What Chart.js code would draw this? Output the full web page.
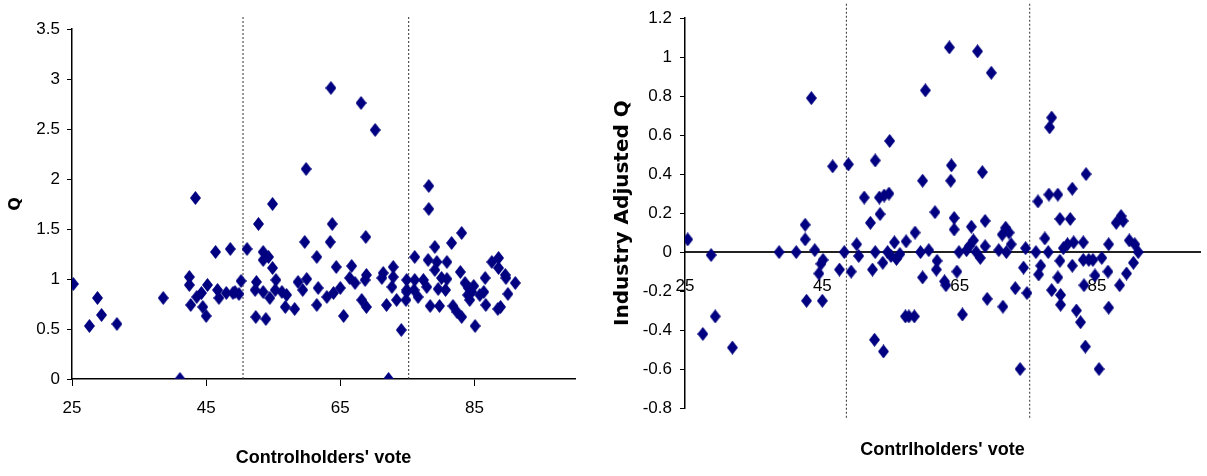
<!DOCTYPE html>
<html>
<head>
<meta charset="utf-8">
<script src="https://cdn.jsdelivr.net/npm/chart.js@4/dist/chart.umd.min.js"></script>
<style>
    body { margin: 0; background: #fff; }
    .wrap { position: relative; width: 1207px; height: 476px; overflow: hidden; }
    #left { position: absolute; left: 0; top: 0; }
    #right { position: absolute; left: 600px; top: 0; }
</style>
</head>
<body>
<div class="wrap">
    <canvas id="left" width="600" height="476"></canvas>
    <canvas id="right" width="607" height="476"></canvas>
</div>
<script>
// controlholders' vote (%) vs Q
const leftPoints = [
    [25.2,0.95],[27.6,0.53],[28.8,0.81],[29.4,0.64],[31.7,0.55],[38.6,0.81],[41.1,0],[43.4,1.81],
    [42.5,1.02],[42.5,0.94],[42.7,0.74],[43.6,0.82],[44.3,0.86],[44.5,0.72],[45,0.63],[45.2,0.94],
    [46.4,1.27],[46.7,0.89],[46.9,0.81],[48,0.86],[48.6,1.30],[49,0.86],[49.3,0.87],[49.9,0.85],
    [50.2,0.98],[51.1,1.30],[52.8,1.55],[52.5,0.97],[52.3,0.89],[53.5,0.87],[53.5,1.27],[54.3,1.22],
    [53.5,1.19],[54.9,1.11],[54.9,1.75],[55.4,0.99],[55.3,0.89],[54.5,0.81],[56.3,0.87],[57,0.84],
    [56.8,0.72],[58.2,0.70],[52.4,0.62],[53.9,0.60],[58.7,0.97],[60,1.00],[59.7,1.37],[59.4,0.89],
    [59.9,2.10],[61.5,1.22],[61.7,0.91],[61.5,0.74],[63.8,1.55],[63.5,1.37],[63.6,2.91],[64.4,1.12],
    [63,0.82],[64,0.86],[65,0.91],[65.5,0.63],[66.7,1.13],[66.4,1.01],[67.2,0.96],[68.1,2.76],
    [68.8,1.42],[68.9,1.04],[68.7,0.99],[68.2,0.79],[68.9,0.72],[70.2,2.49],[71.4,1.06],[71.2,1.01],
    [72.9,1.12],[72.9,1.02],[72.7,0.92],[71.9,0.74],[73.4,0.79],[72.2,0],[74.1,0.49],[74.9,0.99],
    [74.9,0.87],[74.8,0.79],[74.9,0.89],[76.1,1.22],[76.1,0.99],[76,0.89],[76.6,0.82],[78.2,1.93],
    [78.2,1.70],[78.1,1.19],[77.4,0.99],[77.9,0.92],[78.4,0.73],[79.1,1.32],[79.4,1.17],[79.1,1.09],
    [79.8,0.73],[79.6,0.90],[80.1,1.01],[80.9,1.17],[81.6,1.36],[80.9,1.00],[80.7,0.89],[81.8,0.73],
    [82.4,0.67],[83.1,1.46],[82.9,1.07],[83.1,0.62],[83.6,0.96],[84.1,0.91],[84,0.84],[84.6,0.87],
    [84.9,0.93],[84.3,0.79],[85.1,0.53],[85.8,0.84],[86.6,1.01],[86.4,0.87],[86.7,0.74],[87.6,1.17],
    [88.6,1.21],[88.6,1.11],[89.6,1.04],[88.5,0.70],[88.9,0.72],[89.7,1.01],[90,0.85],[91.1,0.96]
];

// controlholders' vote (%) vs industry adjusted Q
const rightPoints = [
    [25.4,0.065],[27.6,-0.42],[28.8,-0.015],[29.4,-0.33],[31.9,-0.49],[38.7,0],[41.2,0],[42.5,0.14],
    [42.5,0.065],[42.7,-0.25],[43.4,0.79],[43.9,0.01],[44.5,-0.11],[44.8,-0.06],[45.1,-0.04],[45,-0.25],
    [46.5,0.44],[47.5,-0.09],[48.2,0],[48.8,0.45],[49.2,-0.10],[50,0.04],[50.3,-0.02],[51.1,0.28],
    [52,0.15],[52.3,-0.09],[52.6,-0.45],[52.7,0.47],[52.7,0],[53.4,0.195],[53.3,0.28],[53.9,-0.51],
    [53.8,-0.055],[54,0.29],[54.7,0.30],[54.8,0.57],[54.5,0],[55.5,0.05],[55,-0.02],[55.8,-0.035],
    [56.3,-0.01],[57.2,0.055],[57.1,-0.33],[57.6,-0.33],[58.4,-0.33],[58.5,0.1],[59.3,0],[59.6,0.366],
    [59.6,-0.13],[60,0.83],[60.5,0.01],[61.4,0.205],[61.6,-0.09],[61.7,-0.045],[62.8,-0.15],[63,-0.17],
    [63.5,1.05],[63.7,0.366],[63.8,0.445],[64.2,0.175],[64.2,0.116],[64.6,-0.1],[64.9,0],[65.4,-0.32],
    [66,0.01],[66.4,0.03],[66.7,0.13],[67,0.06],[67.4,0],[67.6,1.03],[68,-0.03],[68.3,0.41],
    [68.7,0.16],[68.7,0.03],[69,-0.24],[69.6,0.92],[70.7,0.01],[71.2,0.09],[71.3,-0.28],[71.7,0.125],
    [71.8,0],[72.2,0.1],[72.5,0.04],[73.1,-0.185],[73.8,-0.60],[74.3,-0.08],[74.6,0.02],[74.8,-0.21],
    [76.1,0],[76.4,0.26],[76.5,-0.115],[76.8,-0.07],[77.4,0.07],[77.9,0],[78.1,0.64],[78.4,0.69],
    [78,0.295],[78.4,-0.195],[79.3,0.295],[79.3,-0.13],[79.6,0.17],[79.6,-0.045],[79.7,-0.22],[79.7,-0.27],
    [80.1,0.02],[80.7,0.04],[81.1,0.17],[81.4,0.325],[81.4,-0.07],[81.6,0.05],[82,-0.3],[82.6,-0.36],
    [83,0.05],[83,-0.04],[83.1,-0.17],[83.3,-0.485],[83.4,0.4],[83.8,-0.04],[84.4,-0.04],[84.7,-0.12],
    [85.3,-0.60],[85.7,-0.03],[86.6,-0.1],[86.7,-0.285],[86.7,0.04],[87.8,0.15],[88.3,-0.17],[88.5,0.185],
    [88.8,0.16],[89.3,-0.11],[89.7,0.06],[90.3,-0.055],[90.5,0.04],[91,0]
];

const xTicks = [25, 45, 65, 85];
const leftYTicks = [0, 0.5, 1, 1.5, 2, 2.5, 3, 3.5];
const rightYTicks = [-0.8, -0.6, -0.4, -0.2, 0, 0.2, 0.4, 0.6, 0.8, 1, 1.2];
const leftCutoffs = [50.5, 75.2];
const rightCutoffs = [48.5, 75.2];

// diamond marker, a bit taller than wide like the original
let marker = document.createElement('canvas');
marker.width = 11;
marker.height = 14;
let m = marker.getContext('2d');
m.fillStyle = '#000080';
m.beginPath();
m.moveTo(5.5, 0);
m.lineTo(11, 7);
m.lineTo(5.5, 14);
m.lineTo(0, 7);
m.closePath();
m.fill();

const tickFont = { family: "'Liberation Sans', Arial, sans-serif", size: 17 };
const xTitleFont = { family: "'Liberation Sans', Arial, sans-serif", size: 18, weight: 'bold' };

function fixedWidth (w) { return scale => { scale.width = w; }; }
function fixedHeight (h) { return scale => { scale.height = h; }; }
function useTicks (values) { return scale => { scale.ticks = values.map(v => ({ value: v })); }; }
function fmt (v) { return String(Math.round(v * 10) / 10); }

function pointsSet (points) {
    return {
        data: points.map(p => ({ x: p[0], y: p[1] })),
        pointStyle: marker,
        pointRadius: 6,
        pointHoverRadius: 6
    };
}

function cutoffSet (x, y0, y1) {
    return {
        data: [{ x: x, y: y0 }, { x: x, y: y1 }],
        showLine: true,
        borderColor: '#333',
        borderWidth: 1,
        borderDash: [2, 2],
        pointRadius: 0,
        clip: false
    };
}

Chart.defaults.color = '#000';

new Chart(document.getElementById('left'), {
    type: 'scatter',
    data: {
        datasets: [pointsSet(leftPoints)].concat(leftCutoffs.map(c => cutoffSet(c, 0, 3.63)))
    },
    options: {
        responsive: false,
        animation: false,
        events: [],
        layout: { padding: { left: 0, top: 29, right: 25, bottom: 0 } },
        plugins: { legend: { display: false }, tooltip: { enabled: false } },
        scales: {
            x: {
                type: 'linear',
                min: 25,
                max: 100,
                afterBuildTicks: useTicks(xTicks),
                afterFit: fixedHeight(97),
                grid: { drawOnChartArea: false, tickLength: 7, color: '#000' },
                border: { color: '#000', width: 1.5 },
                ticks: { padding: 12, font: tickFont, maxRotation: 0, autoSkip: false },
                title: { display: true, text: "Controlholders' vote", font: xTitleFont, padding: { top: 0, bottom: 7 } }
            },
            y: {
                min: 0,
                max: 3.5,
                afterBuildTicks: useTicks(leftYTicks),
                afterFit: fixedWidth(72),
                grid: { drawOnChartArea: false, tickLength: 5, color: '#000' },
                border: { color: '#000', width: 1.5 },
                ticks: { padding: 7, font: tickFont, autoSkip: false, callback: fmt },
                title: { display: true, text: 'Q', font: { family: "'DejaVu Sans', sans-serif", size: 16, weight: 'bold' }, padding: { top: 6, bottom: 0 } }
            }
        }
    }
});

new Chart(document.getElementById('right'), {
    type: 'scatter',
    data: {
        datasets: [pointsSet(rightPoints)].concat(rightCutoffs.map(c => cutoffSet(c, -0.85, 1.28)))
    },
    options: {
        responsive: false,
        animation: false,
        events: [],
        layout: { padding: { left: 0, top: 16, right: 5, bottom: 0 } },
        plugins: { legend: { display: false }, tooltip: { enabled: false } },
        scales: {
            x: {
                type: 'linear',
                position: { y: 0 },
                min: 25,
                max: 100,
                afterBuildTicks: useTicks(xTicks),
                afterFit: fixedHeight(0),
                grid: { display: false },
                border: { color: '#222', width: 2 },
                ticks: { padding: 16, font: tickFont, maxRotation: 0, autoSkip: false }
            },
            x2: {
                type: 'linear',
                position: 'bottom',
                min: 25,
                max: 100,
                afterFit: fixedHeight(68),
                grid: { display: false },
                border: { display: false },
                ticks: { display: false },
                title: { display: true, text: "Contrlholders' vote", font: xTitleFont, padding: { top: 0, bottom: 15 } }
            },
            y: {
                min: -0.8,
                max: 1.2,
                afterBuildTicks: useTicks(rightYTicks),
                afterFit: fixedWidth(85),
                grid: { drawOnChartArea: false, tickLength: 5, color: '#000' },
                border: { color: '#000', width: 1.5 },
                ticks: { padding: 8, font: tickFont, autoSkip: false, callback: fmt },
                title: { display: true, text: 'Industry Adjusted Q', font: { family: "'DejaVu Sans', sans-serif", size: 20, weight: 'bold' }, padding: { top: 11, bottom: 0 } }
            }
        }
    }
});
</script>
</body>
</html>
